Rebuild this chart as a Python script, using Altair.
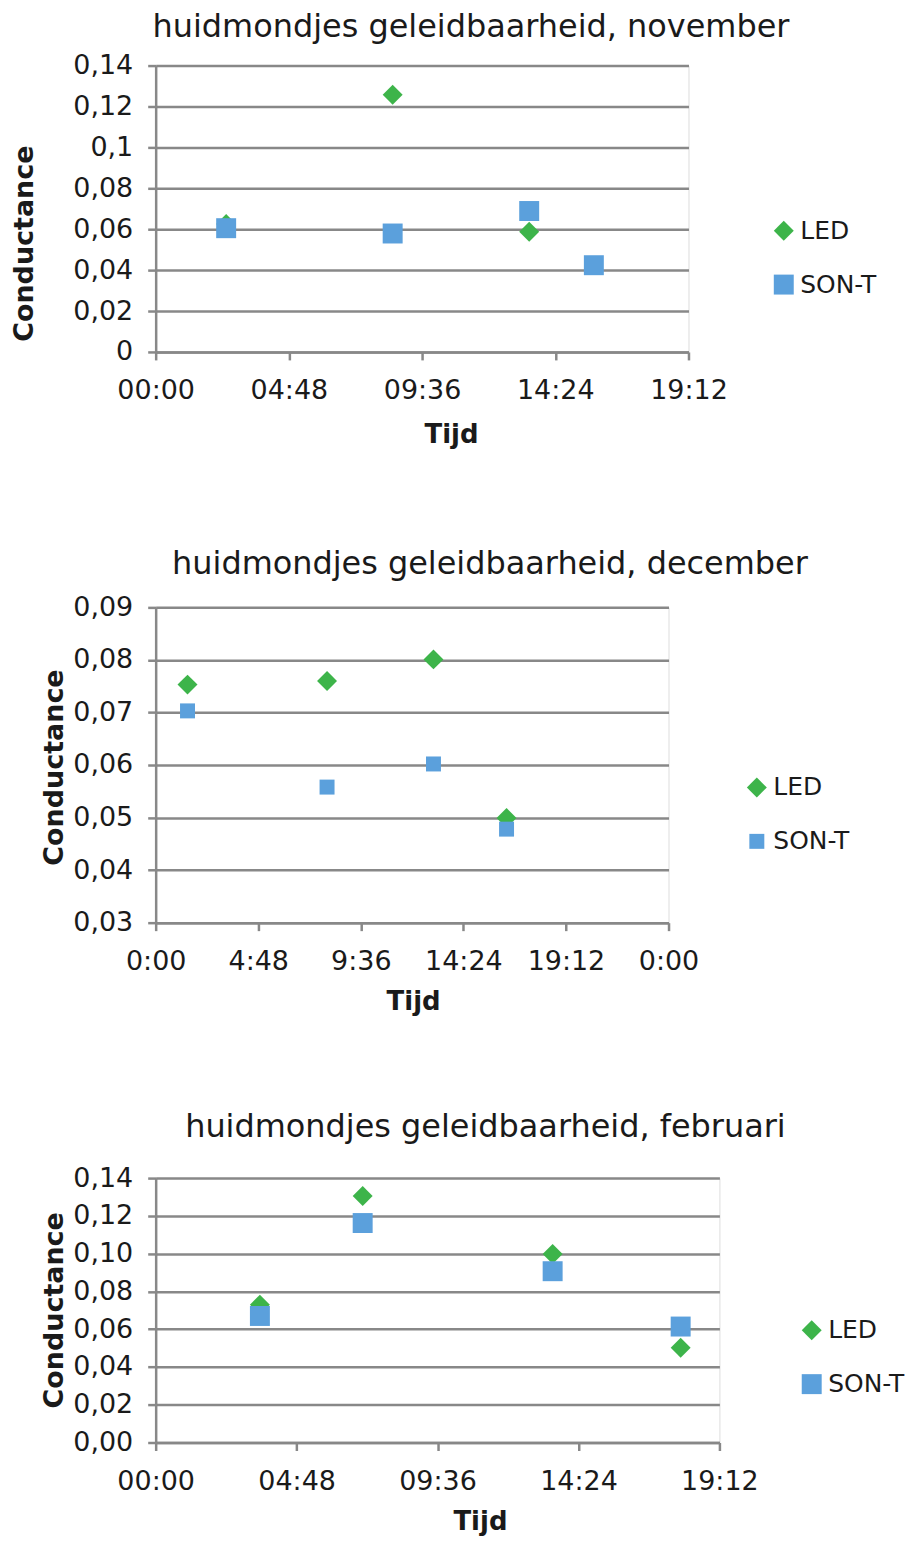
import altair as alt
import pandas as pd

FONT = "DejaVu Sans"
TEXT = "#1a1a1a"
GRID = "#888888"
GREEN = "#3DB44A"
BLUE = "#5BA0DC"

series = ["LED", "SON-T"]
shapes = ["diamond", "square"]
colors = [GREEN, BLUE]

# ---- november (time in hours) ----
nov_led_time = [2.54, 8.54, 13.46]
nov_led_val = [0.0625, 0.1257, 0.0588]
nov_son_time = [2.54, 8.54, 13.46, 15.79]
nov_son_val = [0.0605, 0.0579, 0.0689, 0.0424]

# ---- december ----
dec_led_time = [1.49, 8.02, 13.0, 16.42]
dec_led_val = [0.0753, 0.0760, 0.0801, 0.0499]
dec_son_time = [1.49, 8.02, 13.0, 16.42]
dec_son_val = [0.0703, 0.0558, 0.0602, 0.0478]

# ---- februari ----
feb_led_time = [3.55, 7.05, 13.52, 17.88]
feb_led_val = [0.073, 0.1305, 0.0998, 0.0502]
feb_son_time = [3.55, 7.05, 13.52, 17.88]
feb_son_val = [0.067, 0.1162, 0.0907, 0.0614]

# ---- axis ticks / labels ----
x_ticks_19 = [0, 4.8, 9.6, 14.4, 19.2]
x_labels_19 = ["00:00", "04:48", "09:36", "14:24", "19:12"]
x_ticks_24 = [0, 4.8, 9.6, 14.4, 19.2, 24]
x_labels_24 = ["0:00", "4:48", "9:36", "14:24", "19:12", "0:00"]

y_ticks_nov = [0, 0.02, 0.04, 0.06, 0.08, 0.10, 0.12, 0.14]
y_labels_nov = ["0", "0,02", "0,04", "0,06", "0,08", "0,1", "0,12", "0,14"]
y_ticks_dec = [0.03, 0.04, 0.05, 0.06, 0.07, 0.08, 0.09]
y_labels_dec = ["0,03", "0,04", "0,05", "0,06", "0,07", "0,08", "0,09"]
y_ticks_feb = [0, 0.02, 0.04, 0.06, 0.08, 0.10, 0.12, 0.14]
y_labels_feb = ["0,00", "0,02", "0,04", "0,06", "0,08", "0,10", "0,12", "0,14"]

titles = [
    "huidmondjes geleidbaarheid, november",
    "huidmondjes geleidbaarheid, december",
    "huidmondjes geleidbaarheid, februari",
]


def frame(led_t, led_v, son_t, son_v):
    rows = [{"tijd": t, "val": v, "serie": "LED"} for t, v in zip(led_t, led_v)]
    rows += [{"tijd": t, "val": v, "serie": "SON-T"} for t, v in zip(son_t, son_v)]
    return pd.DataFrame(rows)


def label_expr(labels, start, step):
    arr = "[" + ",".join("'%s'" % s for s in labels) + "]"
    return "%s[round((datum.value - (%s)) / %s)]" % (arr, start, step)


def panel(title, df, xt, xl, xstep, yt, yl, ystep, width, height, sizes,
          title_dx, title_off, ytitle_pad, ytitle_y, xtitle_x, xtitle_y,
          x_lab_pad, leg_x, leg_y):
    legend = alt.Legend(
        title=None, orient="none", legendX=leg_x, legendY=leg_y,
        labelFont=FONT, labelFontSize=25, labelColor=TEXT,
        labelOffset=4, rowPadding=28, padding=0, symbolStrokeWidth=0,
        symbolOpacity=1,
    )
    x_axis = alt.Axis(
        values=xt, labelExpr=label_expr(xl, xt[0], xstep),
        title="Tijd", titleFont=FONT, titleFontSize=26, titleFontWeight="bold",
        titleColor=TEXT, titleX=xtitle_x, titleY=xtitle_y,
        titleBaseline="alphabetic", titleAlign="center",
        labelFont=FONT, labelFontSize=27, labelColor=TEXT,
        labelPadding=x_lab_pad, labelFlush=False, labelOverlap=False,
        tickSize=8, tickColor=GRID, tickWidth=2.5, domainColor=GRID,
        domainWidth=2.5, grid=False,
    )
    y_axis = alt.Axis(
        values=yt, labelExpr=label_expr(yl, yt[0], ystep),
        title="Conductance", titleFont=FONT, titleFontSize=27,
        titleFontWeight="bold", titleColor=TEXT, titlePadding=ytitle_pad,
        titleY=ytitle_y,
        labelFont=FONT, labelFontSize=27, labelColor=TEXT, labelPadding=15,
        labelOverlap=False, labelFlush=False,
        tickSize=8, tickColor=GRID, tickWidth=2.5, domainColor=GRID,
        domainWidth=2.5, grid=True, gridColor=GRID, gridWidth=2.5,
    )
    return (
        alt.Chart(df)
        .mark_point(filled=True, opacity=1, strokeWidth=0)
        .encode(
            x=alt.X("tijd:Q", scale=alt.Scale(domain=[xt[0], xt[-1]], nice=False, zero=False), axis=x_axis),
            y=alt.Y("val:Q", scale=alt.Scale(domain=[yt[0], yt[-1]], nice=False, zero=False), axis=y_axis),
            color=alt.Color("serie:N", scale=alt.Scale(domain=series, range=colors), legend=legend),
            shape=alt.Shape("serie:N", scale=alt.Scale(domain=series, range=shapes), legend=legend),
            size=alt.Size("serie:N", scale=alt.Scale(domain=series, range=sizes), legend=legend),
        )
        .properties(
            width=width, height=height,
            title=alt.TitleParams(
                text=title, font=FONT, fontSize=32, fontWeight="normal",
                color=TEXT, anchor="middle", frame="group", dx=title_dx,
                offset=title_off,
            ),
        )
    )


c1 = panel(titles[0], frame(nov_led_time, nov_led_val, nov_son_time, nov_son_val),
           x_ticks_19, x_labels_19, 4.8, y_ticks_nov, y_labels_nov, 0.02,
           534, 287, [400, 400], 49, 8, 34, 178, 296, 91, 18, 617, 153)
c2 = panel(titles[1], frame(dec_led_time, dec_led_val, dec_son_time, dec_son_val),
           x_ticks_24, x_labels_24, 4.8, y_ticks_dec, y_labels_dec, 0.01,
           514, 316, [400, 225], 78, 12, 4, 160, 258, 87, 18, 590, 168)
c3 = panel(titles[2], frame(feb_led_time, feb_led_val, feb_son_time, feb_son_val),
           x_ticks_19, x_labels_19, 4.8, y_ticks_feb, y_labels_feb, 0.02,
           565, 265, [400, 400], 48, 20, 4, 132, 325, 87, 18, 645, 140)

chart = (
    alt.vconcat(c1, c2, c3, spacing=256, bounds="flush")
    .resolve_scale(color="independent", shape="independent", size="independent")
    .resolve_legend(color="independent", shape="independent", size="independent")
    .properties(padding={"left": 2, "top": 0, "right": 0, "bottom": 0})
    .configure_view(stroke=None)
    .configure(background="white")
)

chart.save("out.html", embed_options={"renderer": "svg", "actions": False})
